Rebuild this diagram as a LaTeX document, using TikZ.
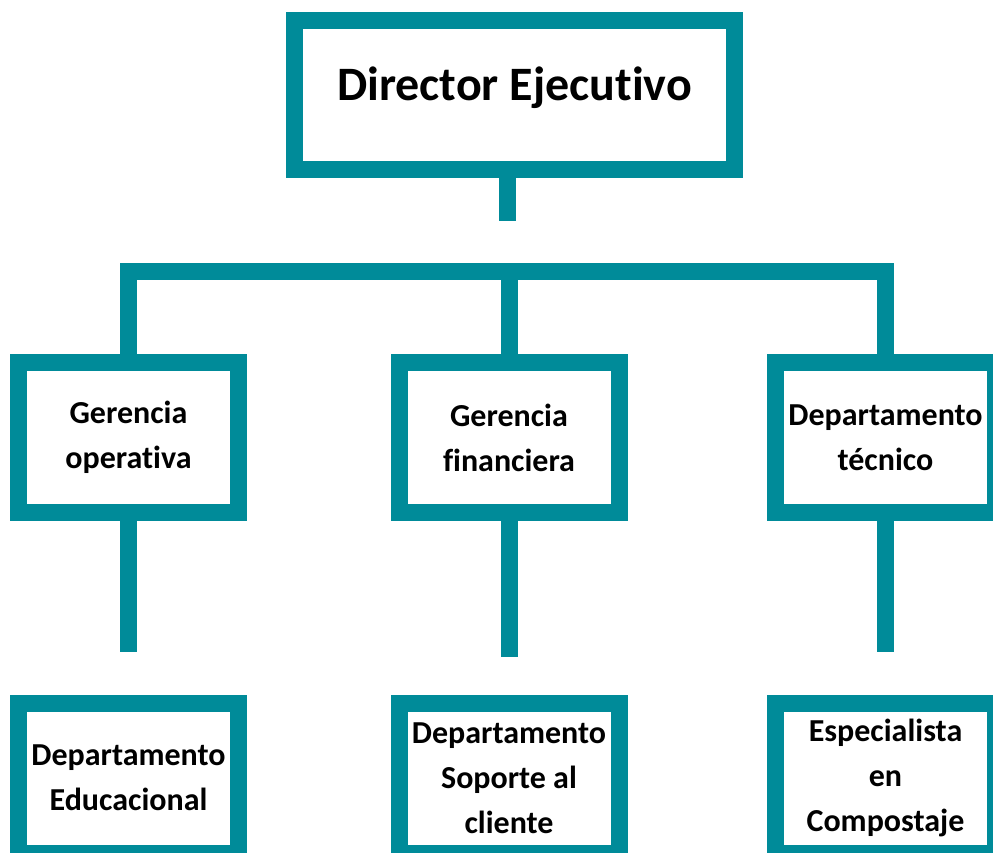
\documentclass[tikz,border=0pt]{standalone}
\usepackage{fontspec}
\setmainfont{Carlito}[Ligatures=NoCommon]
\usetikzlibrary{positioning}
\definecolor{orgteal}{RGB}{0,139,153}

\begin{document}
\begin{tikzpicture}[x=1pt,y=-1pt,
  box/.style={rectangle,draw=orgteal,fill=white,line width=17pt,
  minimum width=220pt,minimum height=150pt,inner sep=0pt,align=center,
  font=\fontsize{32}{45}\selectfont\bfseries},
  link/.style={draw=orgteal,line width=17pt}]

  \useasboundingbox (0,0) rectangle (993,853);
  \clip (0,0) rectangle (993,853);

  % top of the chart
  \node[box,minimum width=440pt,minimum height=149pt,
    text height=32pt,text depth=20pt,
    font=\fontsize{48}{58}\selectfont\bfseries] (DE) at (514.5,95) {Director Ejecutivo};

  % second level
  \node[box] (GO) at (128.5,437.5) {Gerencia\\operativa};
  \node[box] (GF) at (509,437.5) {Gerencia\\financiera};
  \node[box] (DT) at (885.5,437.5) {Departamento\\t\'ecnico};

  % third level
  \node[box] (ED) at (128.5,778) {Departamento\\Educacional};
  \node[box] (SC) at (509,778) {Departamento\\Soporte al\\cliente};
  \node[box] (CO) at (885.5,778) {Especialista\\en\\Compostaje};

  % connectors (the stubs stop short of the next level)
  \coordinate (bus) at (0,271.5);
  \coordinate[below=43pt of DE.south,xshift=-7.5pt] (DEstub);
  \coordinate[below=131pt of GO.south] (GOstub);
  \coordinate[below=136pt of GF.south] (GFstub);
  \coordinate[below=131pt of DT.south] (DTstub);

  \draw[link] (DEstub |- DE.south) -- (DEstub);
  \draw[link] (GO.north) -- (GO.north |- bus) -- (DT.north |- bus) -- (DT.north);
  \draw[link] (GF.north) -- (GF.north |- bus);
  \draw[link] (GO.south) -- (GOstub);
  \draw[link] (GF.south) -- (GFstub);
  \draw[link] (DT.south) -- (DTstub);
\end{tikzpicture}
\end{document}
